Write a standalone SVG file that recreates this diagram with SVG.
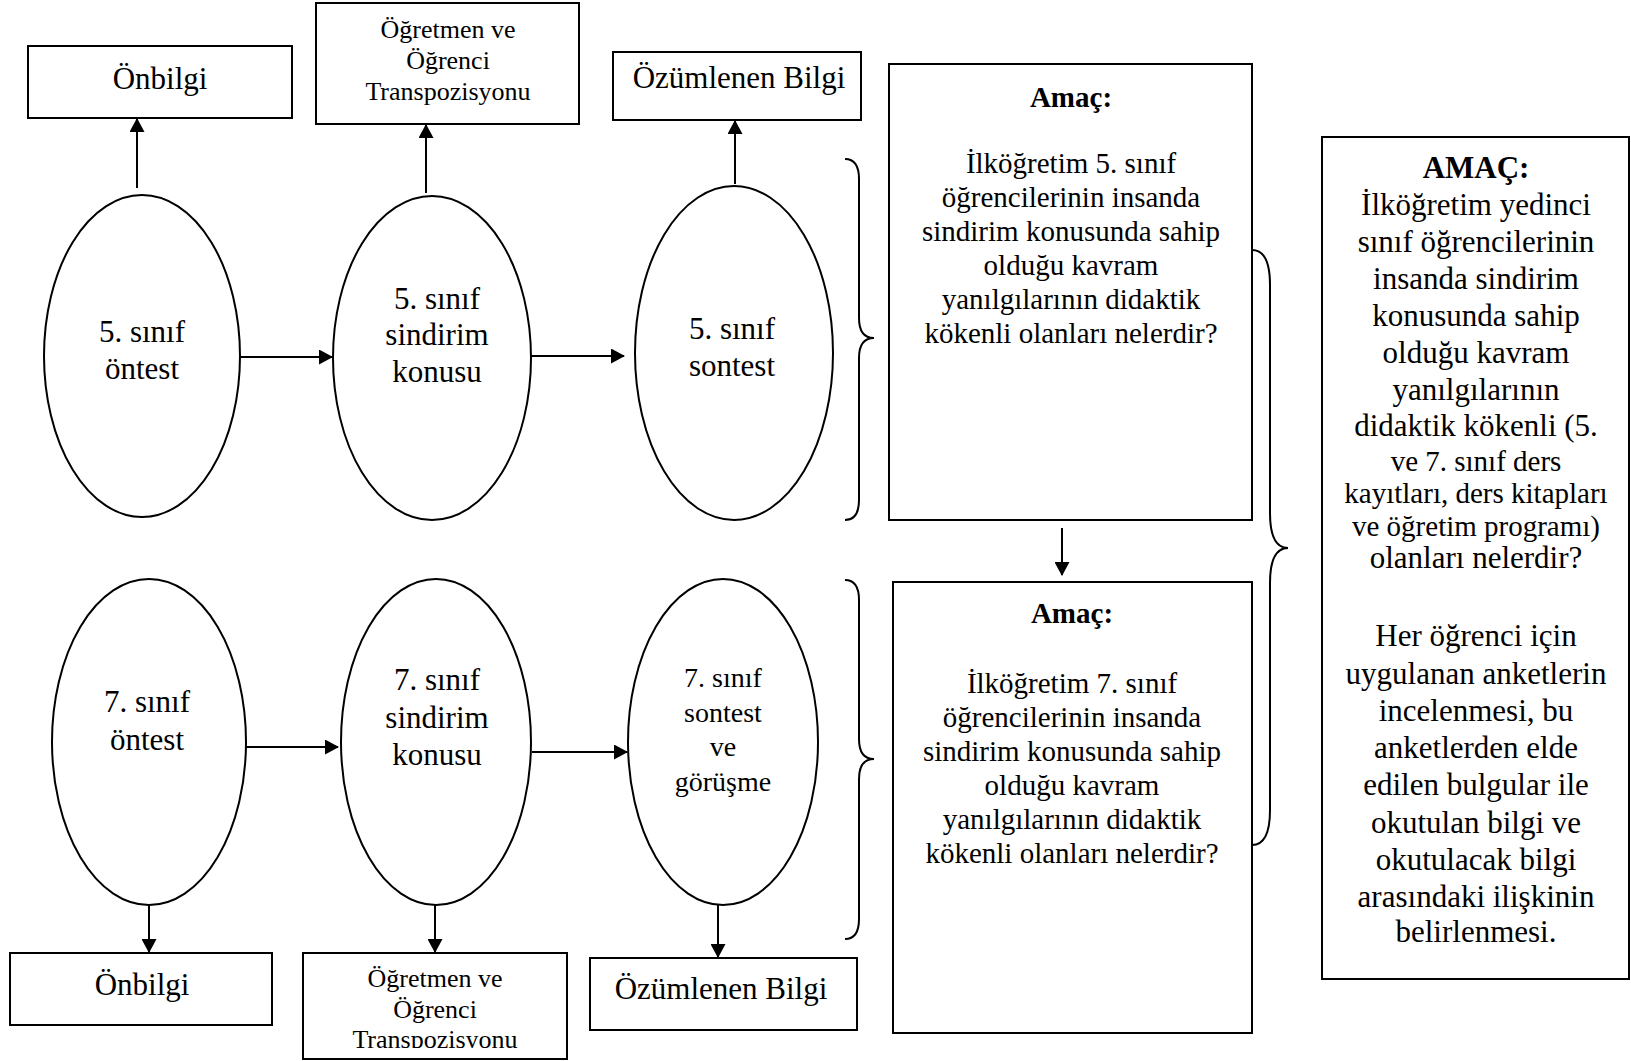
<svg xmlns="http://www.w3.org/2000/svg" width="1631" height="1061" viewBox="0 0 1631 1061">
<defs>
<marker id="ah" markerWidth="14" markerHeight="15" refX="13" refY="7.5" orient="auto" markerUnits="userSpaceOnUse">
<path d="M0,0 L14,7.5 L0,15 Z" fill="#000"/>
</marker>
<clipPath id="clipT">
<rect x="303" y="953" width="264" height="95"/>
</clipPath>
<style>
.box{fill:#fff;stroke:#000;stroke-width:2}
.ell{fill:#fff;stroke:#000;stroke-width:2}
.t{font-family:"Liberation Serif","Times New Roman",serif;fill:#000;text-anchor:middle}
.t31{font-size:31px}
.t26{font-size:26px}
.t29{font-size:29px}
.t28{font-size:28px}
.b{font-weight:bold}
.con{stroke:#000;stroke-width:2;fill:none}
.br{stroke:#000;stroke-width:2;fill:none}
</style>
</defs>
<rect width="1631" height="1061" fill="#fff"/>

<g id="connectors">
<line class="con" x1="137" y1="188" x2="137" y2="119" marker-end="url(#ah)"/>
<line class="con" x1="426" y1="193" x2="426" y2="125" marker-end="url(#ah)"/>
<line class="con" x1="735" y1="184" x2="735" y2="121" marker-end="url(#ah)"/>
<line class="con" x1="239" y1="357" x2="332" y2="357" marker-end="url(#ah)"/>
<line class="con" x1="531" y1="356" x2="624" y2="356" marker-end="url(#ah)"/>
<line class="con" x1="246" y1="747" x2="338" y2="747" marker-end="url(#ah)"/>
<line class="con" x1="532" y1="752" x2="627" y2="752" marker-end="url(#ah)"/>
<line class="con" x1="149" y1="905" x2="149" y2="952" marker-end="url(#ah)"/>
<line class="con" x1="435" y1="905" x2="435" y2="952" marker-end="url(#ah)"/>
<line class="con" x1="718" y1="905" x2="718" y2="957" marker-end="url(#ah)"/>
<line class="con" x1="1062" y1="528" x2="1062" y2="575" marker-end="url(#ah)"/>
<path class="br" d="M845,159 Q859,159 859,179 L859,318 Q859,338 874,338 Q859,338 859,358 L859,500 Q859,520 845,520"/>
<path class="br" d="M845,580 Q859,580 859,600 L859,739 Q859,759 874,759 Q859,759 859,779 L859,919 Q859,939 845,939"/>
<path class="br" d="M1252,250 Q1270,250 1270,285 L1270,513 Q1270,548 1288,548 Q1270,548 1270,583 L1270,810 Q1270,845 1252,845"/>
</g>

<g id="top-onbilgi">
<rect class="box" x="28" y="46" width="264" height="72"/>
<text class="t t31" x="160" y="89">Önbilgi</text>
</g>
<g id="top-transpozisyon">
<rect class="box" x="316" y="3" width="263" height="121"/>
<text class="t t26" x="448" y="38">Öğretmen ve</text>
<text class="t t26" x="448" y="69">Öğrenci</text>
<text class="t t26" x="448" y="100">Transpozisyonu</text>
</g>
<g id="top-ozumlenen">
<rect class="box" x="613" y="52" width="248" height="68"/>
<text class="t t31" x="739" y="88">Özümlenen Bilgi</text>
</g>

<g id="e5-ontest">
<ellipse class="ell" cx="142" cy="356" rx="98" ry="161"/>
<text class="t t31" x="142" y="342">5. sınıf</text>
<text class="t t31" x="142" y="379">öntest</text>
</g>
<g id="e5-konu">
<ellipse class="ell" cx="432" cy="358" rx="99" ry="162"/>
<text class="t t31" x="437" y="309">5. sınıf</text>
<text class="t t31" x="437" y="345">sindirim</text>
<text class="t t31" x="437" y="382">konusu</text>
</g>
<g id="e5-sontest">
<ellipse class="ell" cx="734" cy="353" rx="99" ry="167"/>
<text class="t t31" x="732" y="339">5. sınıf</text>
<text class="t t31" x="732" y="376">sontest</text>
</g>

<g id="amac5">
<rect class="box" x="889" y="64" width="363" height="456"/>
<text class="t t29 b" x="1071" y="107">Amaç:</text>
<text class="t t29" x="1071" y="173">İlköğretim 5. sınıf</text>
<text class="t t29" x="1071" y="207">öğrencilerinin insanda</text>
<text class="t t29" x="1071" y="241">sindirim konusunda sahip</text>
<text class="t t29" x="1071" y="275">olduğu kavram</text>
<text class="t t29" x="1071" y="309">yanılgılarının didaktik</text>
<text class="t t29" x="1071" y="343">kökenli olanları nelerdir?</text>
</g>

<g id="e7-ontest">
<ellipse class="ell" cx="149" cy="742" rx="97" ry="163"/>
<text class="t t31" x="147" y="712">7. sınıf</text>
<text class="t t31" x="147" y="750">öntest</text>
</g>
<g id="e7-konu">
<ellipse class="ell" cx="436" cy="742" rx="95" ry="163"/>
<text class="t t31" x="437" y="690">7. sınıf</text>
<text class="t t31" x="437" y="728">sindirim</text>
<text class="t t31" x="437" y="765">konusu</text>
</g>
<g id="e7-sontest">
<ellipse class="ell" cx="723" cy="742" rx="95" ry="163"/>
<text class="t t28" x="723" y="687">7. sınıf</text>
<text class="t t28" x="723" y="722">sontest</text>
<text class="t t28" x="723" y="756">ve</text>
<text class="t t28" x="723" y="791">görüşme</text>
</g>

<g id="amac7">
<rect class="box" x="893" y="582" width="359" height="451"/>
<text class="t t29 b" x="1072" y="623">Amaç:</text>
<text class="t t29" x="1072" y="693">İlköğretim 7. sınıf</text>
<text class="t t29" x="1072" y="727">öğrencilerinin insanda</text>
<text class="t t29" x="1072" y="761">sindirim konusunda sahip</text>
<text class="t t29" x="1072" y="795">olduğu kavram</text>
<text class="t t29" x="1072" y="829">yanılgılarının didaktik</text>
<text class="t t29" x="1072" y="863">kökenli olanları nelerdir?</text>
</g>

<g id="amac-genel">
<rect class="box" x="1322" y="137" width="307" height="842"/>
<text class="t t31 b" x="1476" y="178">AMAÇ:</text>
<text class="t t31" x="1476" y="215">İlköğretim yedinci</text>
<text class="t t31" x="1476" y="252">sınıf öğrencilerinin</text>
<text class="t t31" x="1476" y="289">insanda sindirim</text>
<text class="t t31" x="1476" y="326">konusunda sahip</text>
<text class="t t31" x="1476" y="363">olduğu kavram</text>
<text class="t t31" x="1476" y="400">yanılgılarının</text>
<text class="t t31" x="1476" y="436">didaktik kökenli (5.</text>
<text class="t t29" x="1476" y="471">ve 7. sınıf ders</text>
<text class="t t29" x="1476" y="503">kayıtları, ders kitapları</text>
<text class="t t29" x="1476" y="536">ve öğretim programı)</text>
<text class="t t31" x="1476" y="568">olanları nelerdir?</text>
<text class="t t31" x="1476" y="646">Her öğrenci için</text>
<text class="t t31" x="1476" y="684">uygulanan anketlerin</text>
<text class="t t31" x="1476" y="721">incelenmesi, bu</text>
<text class="t t31" x="1476" y="758">anketlerden elde</text>
<text class="t t31" x="1476" y="795">edilen bulgular ile</text>
<text class="t t31" x="1476" y="833">okutulan bilgi ve</text>
<text class="t t31" x="1476" y="870">okutulacak bilgi</text>
<text class="t t31" x="1476" y="907">arasındaki ilişkinin</text>
<text class="t t31" x="1476" y="942">belirlenmesi.</text>
</g>

<g id="bot-onbilgi">
<rect class="box" x="10" y="953" width="262" height="72"/>
<text class="t t31" x="142" y="995">Önbilgi</text>
</g>
<g id="bot-transpozisyon">
<rect class="box" x="303" y="953" width="264" height="106"/>
<g clip-path="url(#clipT)">
<text class="t t26" x="435" y="987">Öğretmen ve</text>
<text class="t t26" x="435" y="1018">Öğrenci</text>
<text class="t t26" x="435" y="1048">Transpozisyonu</text>
</g>
</g>
<g id="bot-ozumlenen">
<rect class="box" x="590" y="958" width="267" height="72"/>
<text class="t t31" x="721" y="999">Özümlenen Bilgi</text>
</g>
</svg>
